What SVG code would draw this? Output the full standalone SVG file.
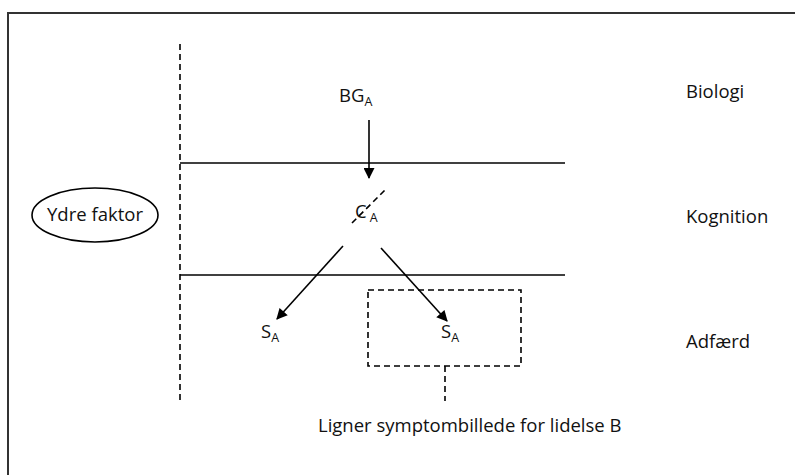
<svg xmlns="http://www.w3.org/2000/svg" width="795" height="475" viewBox="0 0 795 475">
  <style>
    .frame { fill: none; stroke: #333; stroke-width: 2; }
    .line { stroke: #000; stroke-width: 1.6; fill: none; }
    .dash { stroke: #000; stroke-width: 1.6; fill: none; stroke-dasharray: 6 4; }
    .lbl { font-family: "Open Sans", "Noto Sans", sans-serif; font-size: 18.5px; fill: #111; }
    .sub { font-size: 12.5px; }
  </style>
  <defs>
    <marker id="arrow" viewBox="0 0 10 10" refX="9" refY="5" markerWidth="12" markerHeight="11" markerUnits="userSpaceOnUse" orient="auto">
      <path d="M0,0 L10,5 L0,10 z" fill="#000"/>
    </marker>
  </defs>

  <rect width="795" height="475" fill="#fff"/>
  <!-- outer frame (open to the right and bottom) -->
  <path class="frame" d="M8,475 V13 H795"/>

  <!-- layer separators -->
  <g id="layers">
    <line class="dash" x1="180" y1="44" x2="180" y2="402"/>
    <line class="line" x1="180" y1="163" x2="565" y2="163"/>
    <line class="line" x1="180" y1="275" x2="565" y2="275"/>
  </g>

  <!-- connectors -->
  <g id="connectors">
    <line class="line" x1="369" y1="120" x2="369" y2="178" marker-end="url(#arrow)"/>
    <line class="line" x1="343" y1="246" x2="277" y2="319" marker-end="url(#arrow)"/>
    <line class="line" x1="381" y1="248" x2="447" y2="321" marker-end="url(#arrow)"/>
    <line class="dash" x1="445" y1="366" x2="445" y2="401"/>
  </g>

  <g id="bg-a">
    <text class="lbl" x="339" y="102">BG<tspan class="sub" dy="4">A</tspan></text>
  </g>

  <g id="c-a">
    <text class="lbl" x="355" y="218">C<tspan class="sub" dy="4" dx="3">A</tspan></text>
    <line class="dash" x1="352" y1="223" x2="387" y2="188" stroke-dasharray="5 4"/>
  </g>

  <g id="s-a-left">
    <text class="lbl" x="261" y="338">S<tspan class="sub" dy="4">A</tspan></text>
  </g>

  <g id="s-a-right">
    <rect class="dash" x="368" y="290" width="153" height="76"/>
    <text class="lbl" x="441" y="338">S<tspan class="sub" dy="4">A</tspan></text>
  </g>

  <g id="ydre-faktor">
    <ellipse class="line" cx="95" cy="215" rx="63" ry="27"/>
    <text class="lbl" x="95" y="221" text-anchor="middle">Ydre faktor</text>
  </g>

  <g id="level-labels">
    <text class="lbl" x="686" y="98">Biologi</text>
    <text class="lbl" x="686" y="223">Kognition</text>
    <text class="lbl" x="686" y="348">Adfærd</text>
  </g>

  <g id="note">
    <text class="lbl" x="318" y="432">Ligner symptombillede for lidelse B</text>
  </g>
</svg>
